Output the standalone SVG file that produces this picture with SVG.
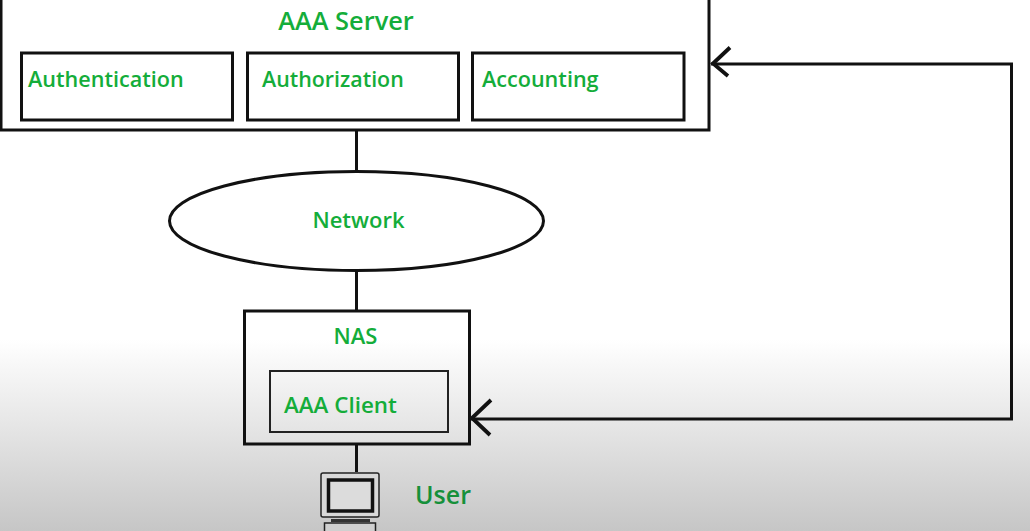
<svg xmlns="http://www.w3.org/2000/svg" width="1030" height="531" viewBox="0 0 1030 531">
<defs>
<linearGradient id="bg" x1="0" y1="0" x2="0" y2="1"><stop offset="0" stop-color="#ffffff"/><stop offset="0.64" stop-color="#ffffff"/><stop offset="0.8" stop-color="#e6e6e6"/><stop offset="1" stop-color="#c6c6c6"/></linearGradient>
</defs>
<style>
.b{fill:none;stroke:#111;stroke-width:3}
.t{fill:#14ad3a;font-family:"Open Sans","Noto Sans",sans-serif;font-weight:600;font-size:21.400px}
.c{fill:none;stroke:#111;stroke-width:3}
.a{fill:none;stroke:#111;stroke-width:3.800}
</style>
<rect width="1030" height="531" fill="url(#bg)"/>
<g id="connectors">
<path class="c" d="M356.500 130V172M356.500 271V311M356.500 444V472"/>
<path class="c" d="M711 64H1011.500V419H471"/>
<path class="a" d="M730 47.500L713 63.500L728 76"/>
<path class="a" d="M491 400L472 418L490 435"/>
</g>
<g id="aaa-server">
<rect class="b" x="1" y="-10" width="708" height="140"/>
<text class="t" x="346" y="30" text-anchor="middle" style="font-size:25.400px">AAA Server</text>
</g>
<g id="authentication"><rect class="b" x="21.500" y="53" width="211" height="67"/><text class="t" x="28" y="87" style="font-size:21.600px">Authentication</text></g>
<g id="authorization"><rect class="b" x="247.500" y="53" width="211" height="67"/><text class="t" x="262" y="87">Authorization</text></g>
<g id="accounting"><rect class="b" x="472.500" y="53" width="211.500" height="67"/><text class="t" x="482" y="87" style="font-size:21.600px">Accounting</text></g>
<g id="network"><ellipse class="b" cx="356.500" cy="221" rx="187" ry="49.500"/><text class="t" x="358.500" y="228" text-anchor="middle" style="font-size:22px">Network</text></g>
<g id="nas"><rect class="b" x="244.500" y="311" width="225" height="133"/><text class="t" x="355.500" y="344" text-anchor="middle" style="font-size:22px">NAS</text></g>
<g id="aaa-client"><rect x="270" y="371" width="178" height="61" fill="none" stroke="#222" stroke-width="2"/><text class="t" x="284" y="412.500" style="font-size:22.400px">AAA Client</text></g>
<g id="user">
<rect x="321" y="473" width="58" height="44" rx="2" fill="#d8d8d8" stroke="#222" stroke-width="1.500"/>
<rect x="328.500" y="480" width="44" height="31" fill="#dcdcdc" stroke="#111" stroke-width="3.500"/>
<path d="M331 519H370V522H331Z" fill="#333"/>
<rect x="324.500" y="523" width="51" height="12" fill="#d0d0d0" stroke="#222" stroke-width="1.500"/>
<text class="t" x="415" y="504" style="fill:#16903a;font-size:25px">User</text>
</g>
</svg>
